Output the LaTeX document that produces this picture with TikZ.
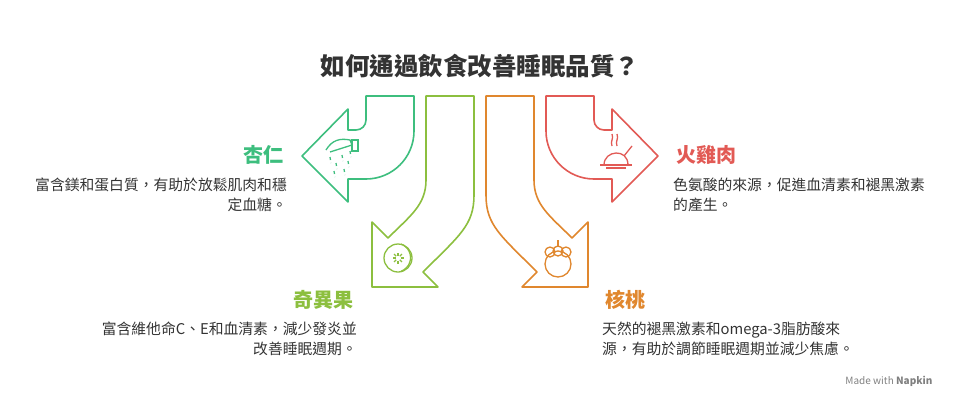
\documentclass[tikz,border=0pt]{standalone}
\usepackage{fontspec}
\setmainfont{Noto Sans CJK TC}
\usetikzlibrary{positioning}
\definecolor{almond}{HTML}{3DBE7E}
\definecolor{kiwi}{HTML}{8CBF3F}
\definecolor{walnut}{HTML}{E0872E}
\definecolor{turkey}{HTML}{E25A55}
\definecolor{ink}{HTML}{333333}
\begin{document}
\begin{tikzpicture}[x=1pt,y=-1pt,
    band/.style={line width=1.6pt, line join=round, fill=white},
    icon/.style={line width=1.3pt},
    head/.style={font=\fontsize{20}{22}\selectfont\bfseries},
    desc/.style={font=\fontsize{14.8}{20}\selectfont, text=ink, inner sep=0pt}
]
\useasboundingbox (0,0) rectangle (960,408);

% Title
\node[font=\fontsize{24.5}{26}\selectfont\bfseries, text=ink] (title) at (480,66) {如何通過飲食改善睡眠品質？};

% Arrows
\draw[band, draw=almond] (366,96) -- (414,96) -- (414,131) arc[start angle=0, end angle=90, radius=48]
  -- (348,179) -- (348,202) -- (302,156) -- (348,109) -- (348,130) -- (356,130)
  arc[start angle=90, end angle=0, radius=10] -- cycle;
\draw[band, draw=turkey] (594,96) -- (546,96) -- (546,131) arc[start angle=180, end angle=90, radius=48]
  -- (612,179) -- (612,202) -- (658,156) -- (612,109) -- (612,130) -- (604,130)
  arc[start angle=90, end angle=180, radius=10] -- cycle;
\draw[band, draw=kiwi] (426,96) -- (474,96) -- (474,195)
  .. controls (474,225) and (460,235) .. (423,272) -- (438,287) -- (372,287) -- (372,222) -- (388,238)
  .. controls (410,216) and (426,205) .. (426,180) -- cycle;
\draw[band, draw=walnut] (534,96) -- (486,96) -- (486,195)
  .. controls (486,225) and (500,235) .. (537,272) -- (522,287) -- (588,287) -- (588,222) -- (572,238)
  .. controls (550,216) and (534,205) .. (534,180) -- cycle;

% Icons
\begin{scope}[icon, draw=almond]
  \draw (326,150) .. controls (332,140) and (340,138) .. (350,140) -- (352,145) -- (330,152);
  \draw (352,140) rectangle (358,151);
  \foreach \p in {(330,160),(336,166),(342,158),(348,164),(334,174),(344,172),(350,154)}
    \draw[dashed] \p ++(0,-3) -- ++(1,6);
\end{scope}
\begin{scope}[icon, draw=kiwi]
  \draw (398,258) circle[radius=14];
  \draw (401,244) arc[start angle=-70, end angle=70, radius=14.5];
  \foreach \a in {0,45,...,315} \draw (398,258) ++(\a:2.5) -- ++(\a:3);
\end{scope}
\begin{scope}[icon, draw=walnut]
  \draw (558,264) circle[radius=13];
  \draw (550,252) circle[radius=5] (558,251) circle[radius=5] (566,252) circle[radius=5];
  \draw (558,246) -- (558,240);
\end{scope}
\begin{scope}[icon, draw=turkey]
  \draw (600,165) -- (632,165);
  \draw (604,165) .. controls (604,150) and (628,148) .. (628,165);
  \draw (624,156) -- (632,146);
  \foreach \x in {612,617} \draw (\x,146) .. controls (\x-2,141) and (\x+2,139) .. (\x,134);
  \draw (606,168) -- (626,168);
\end{scope}

% Labels
\node[head, text=almond, anchor=east] (almondT) at (287,155) {杏仁};
\node[desc, align=right, anchor=north east] (almondD) at (287,178) {富含鎂和蛋白質，有助於放鬆肌肉和穩\\定血糖。};
\node[head, text=turkey, anchor=west] (turkeyT) at (673,155) {火雞肉};
\node[desc, align=left, anchor=north west] (turkeyD) at (673,178) {色氨酸的來源，促進血清素和褪黑激素\\的產生。};
\node[head, text=kiwi, anchor=east] (kiwiT) at (357,300) {奇異果};
\node[desc, align=right, anchor=north east] (kiwiD) at (357,322) {富含維他命C、E和血清素，減少發炎並\\改善睡眠週期。};
\node[head, text=walnut, anchor=west] (walnutT) at (602,300) {核桃};
\node[desc, align=left, anchor=north west] (walnutD) at (602,322) {天然的褪黑激素和omega-3脂肪酸來\\源，有助於調節睡眠週期並減少焦慮。};

\node[font=\fontsize{10}{10}\selectfont, text=gray, anchor=east] (made) at (936,381) {Made with \textbf{Napkin}};
\end{tikzpicture}
\end{document}
